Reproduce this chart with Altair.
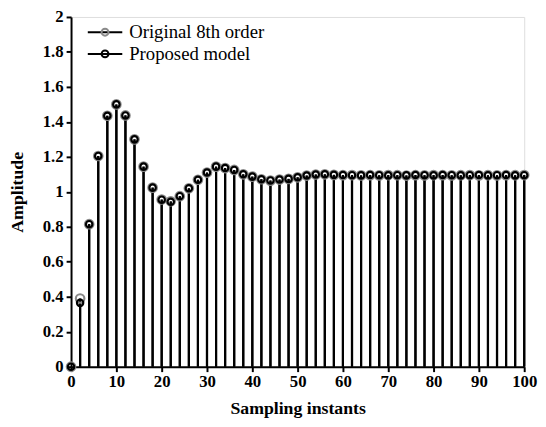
import altair as alt
import pandas as pd

x_vals = list(range(0, 101, 2))
original = [0.0, 0.39, 0.815, 1.205, 1.435, 1.50, 1.437, 1.30, 1.144, 1.024,
            0.956, 0.946, 0.975, 1.02, 1.069, 1.11, 1.144, 1.136, 1.125, 1.10,
            1.087, 1.072, 1.064, 1.07, 1.074, 1.083, 1.093, 1.099, 1.10, 1.097,
            1.095, 1.096, 1.094, 1.095, 1.094, 1.096, 1.095, 1.093, 1.095, 1.094,
            1.096, 1.095, 1.094, 1.095, 1.096, 1.094, 1.095, 1.094, 1.095, 1.095, 1.096]
proposed = [0.0, 0.365, 0.815, 1.205, 1.435, 1.50, 1.437, 1.30, 1.144, 1.024,
            0.955, 0.943, 0.975, 1.02, 1.069, 1.11, 1.144, 1.136, 1.125, 1.10,
            1.087, 1.072, 1.065, 1.07, 1.074, 1.083, 1.093, 1.099, 1.10, 1.097,
            1.096, 1.095, 1.094, 1.096, 1.095, 1.094, 1.095, 1.094, 1.096, 1.095,
            1.094, 1.096, 1.095, 1.094, 1.095, 1.096, 1.094, 1.095, 1.096, 1.094, 1.095]
series_names = ["Original 8th order", "Proposed model"]
marker_keys = ["marker: original", "marker: proposed"]
x_ticks = list(range(0, 101, 10))
y_ticks = [0, 0.2, 0.4, 0.6, 0.8, 1.0, 1.2, 1.4, 1.6, 1.8, 2.0]

n = len(x_vals)
df = pd.DataFrame({
    "x": x_vals * 2,
    "y": original + proposed,
    "series": [series_names[0]] * n + [series_names[1]] * n,
    "marker": [marker_keys[0]] * n + [marker_keys[1]] * n,
})

FONT = "Liberation Serif"
FS = 17
TFS = 18
LFS = 19

xenc = alt.X("x:Q", scale=alt.Scale(domain=[0, 100], nice=False),
             axis=alt.Axis(values=x_ticks, title="Sampling instants", grid=False,
                           domainColor="black", domainWidth=2, tickColor="black",
                           tickWidth=2, tickSize=5, labelFont=FONT, labelFontSize=FS,
                           labelFontWeight="bold", labelColor="black", labelPadding=2,
                           labelOverlap=False,
                           titleFont=FONT, titleFontSize=TFS, titleFontWeight="bold",
                           titleColor="black", titlePadding=11, labelFlush=False))
yenc = alt.Y("y:Q", scale=alt.Scale(domain=[0, 2], nice=False),
             axis=alt.Axis(values=y_ticks, tickCount=11, format=".1~f", title="Amplitude",
                           grid=False,
                           domainColor="black", domainWidth=2, tickColor="black",
                           tickWidth=2, tickSize=5, labelFont=FONT, labelFontSize=FS,
                           labelFontWeight="bold", labelColor="black", labelPadding=3,
                           labelOverlap=False,
                           titleFont=FONT, titleFontSize=TFS, titleFontWeight="bold",
                           titleColor="black", titlePadding=16, labelFlush=False))

stems = alt.Chart(df).mark_rule(strokeWidth=2.2).encode(
    x=xenc,
    y=yenc,
    y2=alt.datum(0),
    color=alt.Color("series:N",
                    scale=alt.Scale(domain=series_names, range=["black", "black"]),
                    legend=alt.Legend(orient="none", legendX=25, legendY=6, title=None,
                                      symbolType="M-5,0H5", symbolSize=49,
                                      symbolStrokeWidth=2, labelFont=FONT,
                                      labelFontSize=LFS, labelColor="black",
                                      labelOffset=15, rowPadding=2, padding=0)),
)

pt_scale = alt.Scale(domain=marker_keys, range=["#8a8a8a", "black"])
pt_legend = alt.Legend(orient="none", legendX=25, legendY=6, title=None,
                       symbolType="circle", symbolSize=49, symbolStrokeWidth=2,
                       labelFont=FONT, labelFontSize=LFS, labelExpr="''",
                       labelOffset=15, rowPadding=2, padding=0)

orig_pts = alt.Chart(df).transform_filter(
    alt.datum.series == series_names[0]
).mark_point(filled=False, size=75, strokeWidth=2.2, opacity=1).encode(
    x=xenc, y=yenc,
    stroke=alt.Stroke("marker:N", scale=pt_scale, legend=pt_legend),
)
prop_pts = alt.Chart(df).transform_filter(
    alt.datum.series == series_names[1]
).mark_point(filled=False, size=42, strokeWidth=2.2, opacity=1).encode(
    x=xenc, y=yenc,
    stroke=alt.Stroke("marker:N", scale=pt_scale, legend=pt_legend),
)

chart = alt.layer(stems, orig_pts, prop_pts).properties(
    width=460, height=355,
    autosize=alt.AutoSizeParams(type="none"),
    padding={"left": 64, "top": 6, "right": 14, "bottom": 50},
).configure_view(stroke=None).configure(background="white")

chart.save("out.html", embed_options={"renderer": "svg", "actions": False})
